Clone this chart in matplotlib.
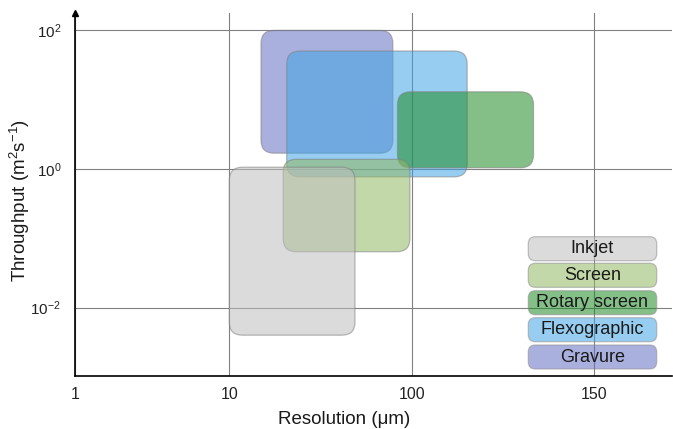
import numpy as np
import matplotlib
matplotlib.use("Agg")
import matplotlib.pyplot as plt
from matplotlib.patches import FancyBboxPatch

plt.rcParams['font.family'] = ['Liberation Sans', 'DejaVu Sans']
plt.rcParams['mathtext.fontset'] = 'custom'
plt.rcParams['mathtext.rm'] = 'Liberation Sans'
plt.rcParams['mathtext.it'] = 'Liberation Sans'
plt.rcParams['mathtext.bf'] = 'Liberation Sans'

# ---- data ----
categories = ["Inkjet", "Screen", "Rotary screen", "Flexographic", "Gravure"]
res_min = [10.0, 19.7, 83.0, 20.6, 14.9]      # resolution (um), left edge
res_max = [48.6, 97.0, 131.0, 113.0, 78.3]    # resolution (um), right edge
thr_min = [0.004, 0.064, 1.04, 0.77, 1.69]    # throughput (m2/s), bottom
thr_max = [1.06, 1.38, 13.0, 50.4, 100.0]     # throughput (m2/s), top
colors = ["#bfbfbf", "#92b861", "#1f8c27", "#40a4e4", "#646fc1"]
x_ticks = [1, 10, 100, 150]
x_tick_labels = ["1", "10", "100", "150"]
y_ticks = [1e-2, 1e0, 1e2]
y_tick_labels = [r"$10^{-2}$", r"$10^{0}$", r"$10^{2}$"]

# piecewise axis used by the original figure
_L = np.array([0.0, 1.0, 2.0, np.log10(150)])
_P = np.array([0.0, 154.3, 337.3, 519.3])


def fwd(x):
    lx = np.log10(np.clip(np.asarray(x, dtype=float), 1e-6, None))
    y = np.interp(lx, _L, _P)
    s_lo = (_P[1] - _P[0]) / (_L[1] - _L[0])
    s_hi = (_P[-1] - _P[-2]) / (_L[-1] - _L[-2])
    y = np.where(lx < _L[0], _P[0] + (lx - _L[0]) * s_lo, y)
    y = np.where(lx > _L[-1], _P[-1] + (lx - _L[-1]) * s_hi, y)
    return y


def inv(p):
    p = np.asarray(p, dtype=float)
    lx = np.interp(p, _P, _L)
    s_lo = (_L[1] - _L[0]) / (_P[1] - _P[0])
    s_hi = (_L[-1] - _L[-2]) / (_P[-1] - _P[-2])
    lx = np.where(p < _P[0], _L[0] + (p - _P[0]) * s_lo, lx)
    lx = np.where(p > _P[-1], _L[-1] + (p - _P[-1]) * s_hi, lx)
    return 10 ** lx


W, H = 673, 429
fig = plt.figure(figsize=(W / 100, H / 100), dpi=100)
ax_l, ax_b, ax_w, ax_h = 75 / W, 1 - 375.7 / H, 597 / W, 362.7 / H
ax = fig.add_axes([ax_l, ax_b, ax_w, ax_h])
ax.set_xscale('function', functions=(fwd, inv))
ax.set_yscale('log')
ax.set_xlim(1, float(inv(597.0)))
ax.set_ylim(10 ** -2.983, 10 ** 2.251)

ax.set_xticks(x_ticks)
ax.set_xticklabels(x_tick_labels, fontsize=11.5, color='#222222')
ax.set_yticks(y_ticks)
ax.set_yticklabels(y_tick_labels, fontsize=11, color='#222222')
ax.yaxis.set_minor_locator(matplotlib.ticker.NullLocator())
ax.xaxis.set_minor_locator(matplotlib.ticker.NullLocator())
ax.tick_params(axis='x', length=0, pad=8)
ax.tick_params(axis='y', length=0, pad=10)
ax.grid(True, color="#808080", linewidth=0.8, zorder=0)
ax.set_axisbelow(True)
for s in ['top', 'right']:
    ax.spines[s].set_visible(False)
for s in ['left', 'bottom']:
    ax.spines[s].set_linewidth(1.2)
ax.plot([0], [1], marker='^', color='black', markersize=5,
        transform=ax.transAxes, clip_on=False, zorder=10)

# boxes in axes-fraction coordinates with round corners
to_axes = ax.transData + ax.transAxes.inverted()
Wpx, Hpx = ax_w * W, ax_h * H
r_px = 13
draw_order = [4, 3, 2, 1, 0]
for z, i in enumerate(draw_order):
    (x0, y0), (x1, y1) = to_axes.transform([[res_min[i], thr_min[i]],
                                            [res_max[i], thr_max[i]]])
    p = FancyBboxPatch((x0, y0), x1 - x0, y1 - y0,
                       boxstyle=f"round,pad=0,rounding_size={r_px / Wpx}",
                       mutation_aspect=Wpx / Hpx,
                       transform=ax.transAxes, facecolor=colors[i],
                       edgecolor="#808080", linewidth=0.9, alpha=0.55,
                       zorder=2 + z)
    ax.add_patch(p)

# legend as rounded boxes
leg_left, leg_right = 528.3, 656.7
leg_tops = [236.7, 263.3, 290.7, 317.7, 345.0]
leg_h = 24.0
rl = 7
for i, name in enumerate(categories):
    top = leg_tops[i]
    x0 = (leg_left - 75) / Wpx
    x1 = (leg_right - 75) / Wpx
    y1 = (375.7 - top) / Hpx
    y0 = (375.7 - top - leg_h) / Hpx
    p = FancyBboxPatch((x0, y0), x1 - x0, y1 - y0,
                       boxstyle=f"round,pad=0,rounding_size={rl / Wpx}",
                       mutation_aspect=Wpx / Hpx,
                       transform=ax.transAxes, facecolor=colors[i],
                       edgecolor="#909090", linewidth=0.9, alpha=0.55,
                       zorder=20)
    ax.add_patch(p)
    ax.text((x0 + x1) / 2, (y0 + y1) / 2, name, transform=ax.transAxes,
            ha='center', va='center', fontsize=13, color='#1a1a1a', zorder=21)

fig.text(344 / W, 1 - 419 / H, "Resolution (μm)", ha='center', va='center',
         fontsize=13.5, color='#1a1a1a')
fig.text(20 / W, 1 - 200 / H, r"Throughput (m$^{2}$s$^{-1}$)", ha='center',
         va='center', rotation=90, fontsize=13.5, color='#1a1a1a')

fig.savefig("out.png", dpi=100)
